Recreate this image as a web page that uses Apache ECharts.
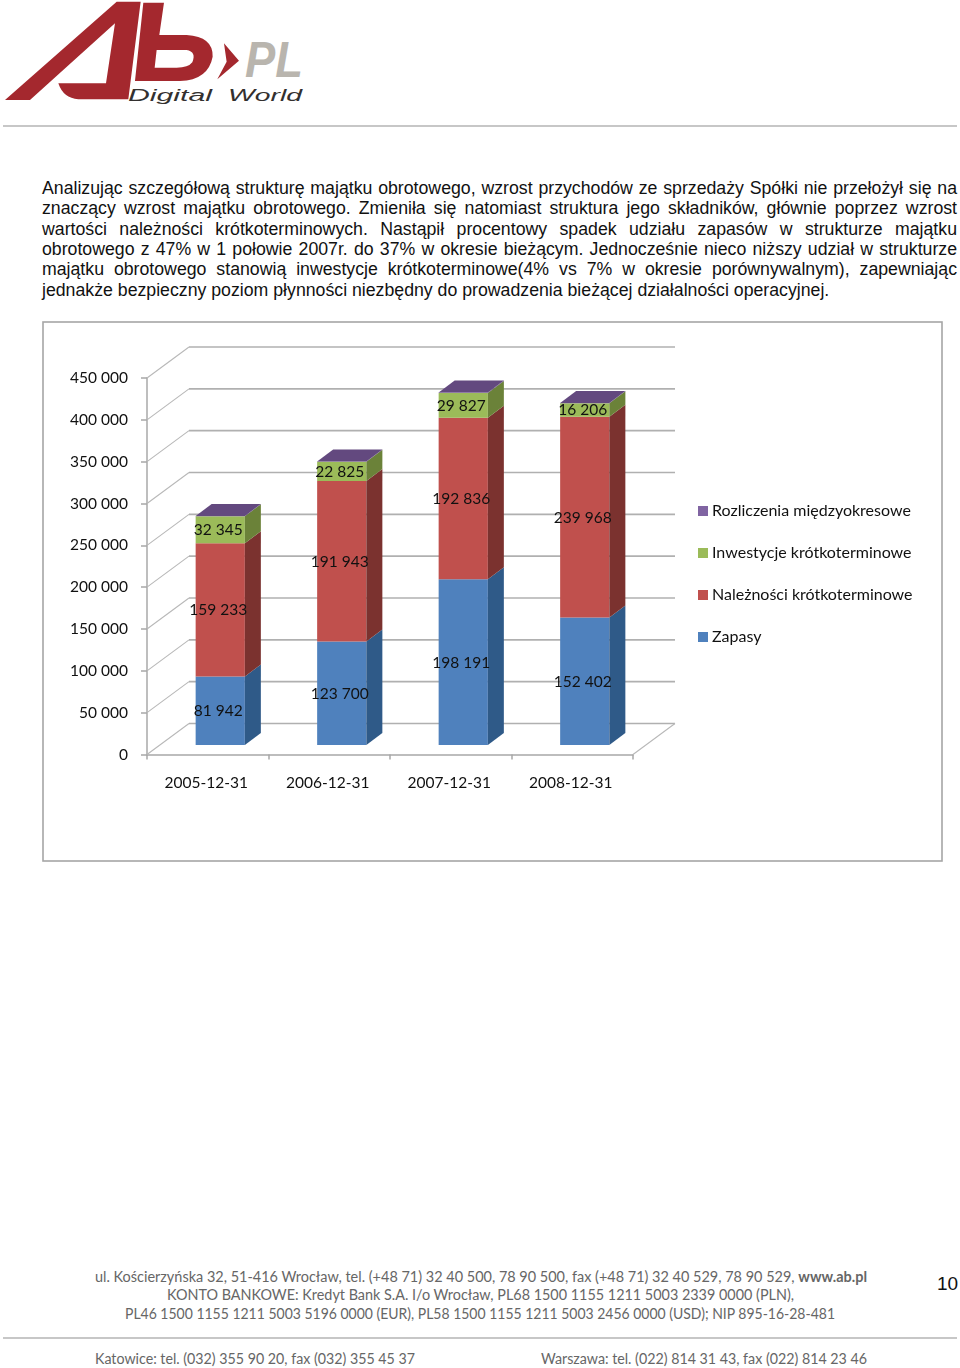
<!DOCTYPE html>
<html lang="pl"><head><meta charset="utf-8">
<style>
html,body{margin:0;padding:0;background:#fff;width:960px;height:1368px;overflow:hidden}
#page{position:absolute;left:0;top:0;width:960px;height:1368px}
#body{position:absolute;left:42px;top:178px;width:915px;font:17.72px/20.35px "Liberation Sans",Arial,sans-serif;color:#111}
#body div{text-align:justify;text-align-last:justify;white-space:nowrap}
#body div:last-child{text-align:left;text-align-last:left}
#chart{position:absolute;left:0;top:0;width:960px;height:1368px}
</style>
<script src="https://cdn.jsdelivr.net/npm/echarts@6/dist/echarts.min.js"></script>
</head><body>
<svg id="page" width="960" height="1368" viewBox="0 0 960 1368">
  <g transform="scale(0.3333)" fill="#a4282e" fill-rule="evenodd">
    <path d="M15,300 L350,5 L422,5 L385,298 L235,298 Q190,295 175,250 L318,250 L345,70 L90,300 Z"/>
    <path d="M430,8 L492,8 L478,105 L560,105 Q640,110 638,170 Q625,240 540,243 L405,243 Z M470,150 L560,150 Q590,155 577,187 Q565,203 530,203 L464,203 Z"/>
    <path d="M672,130 L717,182 L652,238 L680,185 Z"/>
  </g>
  <text x="245" y="77" font-family="Liberation Sans" font-weight="bold" font-style="italic" font-size="50" fill="#b9b5ae" textLength="58" lengthAdjust="spacingAndGlyphs">PL</text>
  <g font-family="Liberation Sans" font-style="italic" font-size="16" fill="#33302f">
    <text x="128" y="101" textLength="84" lengthAdjust="spacingAndGlyphs">Digital</text>
    <text x="228" y="101" textLength="74" lengthAdjust="spacingAndGlyphs">World</text>
  </g>
  <line x1="3" y1="126" x2="957" y2="126" stroke="#b5b5b5" stroke-width="1.6"/>
  <rect x="43" y="322" width="899" height="539" fill="none" stroke="#a6a6a6" stroke-width="1.6"/>
  <g font-family="Lato" font-size="15.5" fill="#666">
    <text x="95" y="1282" textLength="772" lengthAdjust="spacingAndGlyphs">ul. Kościerzyńska 32, 51-416 Wrocław, tel. (+48 71) 32 40 500, 78 90 500, fax (+48 71) 32 40 529, 78 90 529, <tspan font-weight="bold">www.ab.pl</tspan></text>
    <text x="167" y="1300" textLength="627" lengthAdjust="spacingAndGlyphs">KONTO BANKOWE: Kredyt Bank S.A. I/o Wrocław, PL68 1500 1155 1211 5003 2339 0000 (PLN),</text>
    <text x="125" y="1319" textLength="710" lengthAdjust="spacingAndGlyphs">PL46 1500 1155 1211 5003 5196 0000 (EUR), PL58 1500 1155 1211 5003 2456 0000 (USD); NIP 895-16-28-481</text>
    <text x="95" y="1364" textLength="320" lengthAdjust="spacingAndGlyphs">Katowice: tel. (032) 355 90 20, fax (032) 355 45 37</text>
    <text x="541" y="1364" textLength="326" lengthAdjust="spacingAndGlyphs">Warszawa: tel. (022) 814 31 43, fax (022) 814 23 46</text>
  </g>
  <text x="937" y="1290" font-family="Liberation Sans" font-size="19" fill="#111">10</text>
  <line x1="3" y1="1338" x2="957" y2="1338" stroke="#b5b5b5" stroke-width="1.6"/>
</svg>
<div id="body"></div>
<div id="chart"></div>
<script>
var paragraphLines = [
  "Analizując szczegółową strukturę majątku obrotowego, wzrost przychodów ze sprzedaży Spółki nie przełożył się na",
  "znaczący wzrost majątku obrotowego. Zmieniła się natomiast struktura jego składników, głównie poprzez wzrost",
  "wartości należności krótkoterminowych. Nastąpił procentowy spadek udziału zapasów w strukturze majątku",
  "obrotowego z 47% w 1 połowie 2007r. do 37% w okresie bieżącym. Jednocześnie nieco niższy udział w strukturze",
  "majątku obrotowego stanowią inwestycje krótkoterminowe(4% vs 7% w okresie porównywalnym), zapewniając",
  "jednakże bezpieczny poziom płynności niezbędny do prowadzenia bieżącej działalności operacyjnej."
];
var categories = ["2005-12-31", "2006-12-31", "2007-12-31", "2008-12-31"];
var zapasy = [81942, 123700, 198191, 152402];
var naleznosci = [159233, 191943, 192836, 239968];
var inwestycje = [32345, 22825, 29827, 16206];
var rozliczenia = [300, 400, 350, 300];
var seriesNames = ["Zapasy", "Należności krótkoterminowe", "Inwestycje krótkoterminowe", "Rozliczenia międzyokresowe"];
var legendOrder = ["Rozliczenia międzyokresowe", "Inwestycje krótkoterminowe", "Należności krótkoterminowe", "Zapasy"];
var yTicks = [0, 50000, 100000, 150000, 200000, 250000, 300000, 350000, 400000, 450000];

document.getElementById('body').innerHTML = paragraphLines.map(function (l) { return '<div>' + l + '</div>'; }).join('');

var FRONT = ['#4f81bd', '#c0504d', '#9bbb59', '#8064a2'];
var SIDE = ['#2f5a88', '#7b322f', '#6b8239', '#5a4473'];
var TOP_FACE = '#63497f';
var LABEL_FONT = '15.5px Lato';
var WALL = {dx: 42, dy: -31};
var BAR = {dx: 12.5, dy: -9.5, sx: 16, sy: -12, ratio: 0.405};

function fmt(v) { return String(v).replace(/\B(?=(\d{3})+$)/g, ' '); }

function stackSeries(idx, values, hasLabel, isTop) {
  var below = [zapasy, naleznosci, inwestycje, rozliczenia].slice(0, idx);
  var data = values.map(function (v, i) {
    var base = below.reduce(function (s, a) { return s + a[i]; }, 0);
    return [i, base, base + v, v];
  });
  return {
    type: 'custom', name: seriesNames[idx], data: data, z: 5 + idx, clip: false,
    encode: {x: 0, y: [1, 2]},
    itemStyle: {color: FRONT[idx]},
    renderItem: function (params, api) {
      var a = api.coord([api.value(0), api.value(1)]);
      var b = api.coord([api.value(0), api.value(2)]);
      var w = api.size([1, 0])[0] * BAR.ratio;
      var x0 = a[0] + BAR.dx - w / 2, x1 = x0 + w;
      var y0 = a[1] + BAR.dy, y1 = b[1] + BAR.dy;
      var kids = [
        {type: 'polygon', shape: {points: [[x0, y0], [x1, y0], [x1, y1], [x0, y1]]}, style: {fill: FRONT[idx]}},
        {type: 'polygon', shape: {points: [[x1, y0], [x1 + BAR.sx, y0 + BAR.sy], [x1 + BAR.sx, y1 + BAR.sy], [x1, y1]]}, style: {fill: SIDE[idx]}}
      ];
      if (isTop) kids.push({type: 'polygon', shape: {points: [[x0, y1], [x1, y1], [x1 + BAR.sx, y1 + BAR.sy], [x0 + BAR.sx, y1 + BAR.sy]]}, style: {fill: TOP_FACE}});
      if (hasLabel) kids.push({type: 'text', z2: 50, style: {text: fmt(api.value(3)), x: (x0 + x1) / 2 - 2, y: (y0 + y1) / 2 + 0.5, align: 'center', verticalAlign: 'middle', font: LABEL_FONT, fill: '#111'}});
      return {type: 'group', children: kids};
    }
  };
}

var wallSeries = {
  type: 'custom', silent: true, z: 1, clip: false, legendHoverLink: false,
  data: yTicks.map(function (v) { return [0, v]; }),
  encode: {x: 0, y: 1},
  renderItem: function (params, api) {
    var y = api.coord([0, api.value(1)])[1];
    var cs = params.coordSys, x = cs.x, r = cs.x + cs.width;
    var kids = [
      {type: 'polyline', shape: {points: [[x, y], [x + WALL.dx, y + WALL.dy]]}, style: {stroke: '#b8b8b8', lineWidth: 1.1, fill: null}},
      {type: 'polyline', shape: {points: [[x + WALL.dx, y + WALL.dy], [r + WALL.dx, y + WALL.dy]]}, style: {stroke: '#b0b0b0', lineWidth: 1.7, fill: null}}
    ];
    if (api.value(1) === 0) kids.push({type: 'polyline', shape: {points: [[r, y], [r + WALL.dx, y + WALL.dy]]}, style: {stroke: '#b8b8b8', lineWidth: 1.1, fill: null}});
    return {type: 'group', children: kids};
  }
};

var chart = echarts.init(document.getElementById('chart'));
chart.setOption({
  animation: false,
  grid: {left: 147, top: 378, width: 486, height: 376.5, containLabel: false},
  legend: {
    orient: 'vertical', left: 693, top: 498, itemWidth: 10, itemHeight: 10, itemGap: 26, icon: 'rect',
    data: legendOrder, selectedMode: false,
    textStyle: {fontFamily: 'Lato', fontSize: 16, color: '#111', padding: [0, 0, 0, -1]}
  },
  xAxis: {
    type: 'category', data: categories, boundaryGap: true,
    axisLine: {lineStyle: {color: '#a8a8a8', width: 1.5}},
    axisTick: {show: true, length: 5, lineStyle: {color: '#a8a8a8', width: 1.5}},
    axisLabel: {interval: 0, margin: 20, padding: [0, 3, 0, 0], fontFamily: 'Lato', fontSize: 15.5, color: '#111'}
  },
  yAxis: {
    type: 'value', min: 0, max: 450000, interval: 50000,
    splitLine: {show: false},
    axisLine: {show: true, lineStyle: {color: '#a8a8a8', width: 1.5}},
    axisTick: {show: true, length: 6, lineStyle: {color: '#a8a8a8', width: 1.5}},
    axisLabel: {margin: 19, padding: [3, 0, 0, 0], fontFamily: 'Lato', fontSize: 15.5, color: '#111', formatter: fmt}
  },
  series: [
    wallSeries,
    stackSeries(0, zapasy, true, false),
    stackSeries(1, naleznosci, true, false),
    stackSeries(2, inwestycje, true, false),
    stackSeries(3, rozliczenia, false, true)
  ]
});
</script>
</body></html>
